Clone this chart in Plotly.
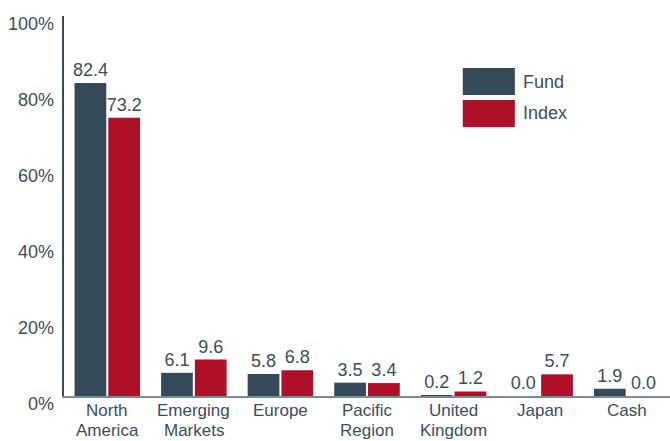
import plotly.graph_objects as go

categories = ["North America", "Emerging Markets", "Europe", "Pacific Region",
              "United Kingdom", "Japan", "Cash"]
label_line1 = ["North", "Emerging", "Europe", "Pacific", "United", "Japan", "Cash"]
label_line2 = ["America", "Markets", "", "Region", "Kingdom", "", ""]
fund = [82.4, 6.1, 5.8, 3.5, 0.2, 0.0, 1.9]
index = [73.2, 9.6, 6.8, 3.4, 1.2, 5.7, 0.0]
y_ticks = [0, 20, 40, 60, 80, 100]
y_tick_text = ["0%", "20%", "40%", "60%", "80%", "100%"]
series_names = ["Fund", "Index"]

FUND_C = "#344a58"
INDEX_C = "#ad1027"
TEXT_C = "#3b4e5a"
FONT = "Liberation Sans, Arial, Helvetica, sans-serif"
FS = 18
FS_CAT = 17

fig = go.Figure()
for name, vals, col in [(series_names[0], fund, FUND_C), (series_names[1], index, INDEX_C)]:
    fig.add_trace(go.Bar(
        x=categories, y=vals, name=name, marker=dict(color=col, line=dict(width=0)),
        text=[f"{v:.1f}" for v in vals], textposition="outside", cliponaxis=False,
        constraintext="none",
        textfont=dict(family=FONT, size=FS, color=TEXT_C), showlegend=False,
    ))

annotations = []
for v, t in zip(y_ticks, y_tick_text):
    annotations.append(dict(x=0, xref="paper", y=v, yref="y", text=t, showarrow=False,
                            xanchor="right", yanchor="middle", xshift=-8, yshift=-8,
                            font=dict(family=FONT, size=FS, color=TEXT_C)))
for c, l1, l2 in zip(categories, label_line1, label_line2):
    annotations.append(dict(x=c, xref="x", y=0, yref="paper", text=l1, showarrow=False,
                            xanchor="center", yanchor="top", yshift=-4, borderpad=0,
                            font=dict(family=FONT, size=FS_CAT, color=TEXT_C)))
    if l2:
        annotations.append(dict(x=c, xref="x", y=0, yref="paper", text=l2, showarrow=False,
                                xanchor="center", yanchor="top", yshift=-24, borderpad=0,
                                font=dict(family=FONT, size=FS_CAT, color=TEXT_C)))

# legend (drawn manually to match large swatches)
legend_items = [(series_names[0], FUND_C, 0.863, 0.792), (series_names[1], INDEX_C, 0.779, 0.708)]
shapes = []
for name, col, y1, y0 in legend_items:
    shapes.append(dict(type="rect", xref="paper", yref="paper", x0=0.658, x1=0.744,
                       y0=y0, y1=y1, fillcolor=col, line=dict(width=0)))
    annotations.append(dict(x=0.754, xref="paper", y=(y0 + y1) / 2, yref="paper", text=name,
                            showarrow=False, xanchor="left", yanchor="middle",
                            font=dict(family=FONT, size=FS, color=TEXT_C)))

fig.update_layout(
    width=670, height=441,
    margin=dict(l=64, r=0, t=16, b=45),
    paper_bgcolor="white", plot_bgcolor="white",
    barmode="group", bargap=0.22, bargroupgap=0.06,
    showlegend=False,
    xaxis=dict(type="category", range=[-0.5, 6.5], showticklabels=False, ticks="",
               showgrid=False, showline=True, linecolor="#7d8b93", linewidth=2,
               zeroline=False),
    yaxis=dict(range=[0, 100], tickvals=y_ticks, showticklabels=False, ticks="",
               showgrid=False, showline=True, linecolor="#3b4e5a", linewidth=1.5,
               zeroline=False),
    annotations=annotations, shapes=shapes,
)

fig.write_html("out.html")
